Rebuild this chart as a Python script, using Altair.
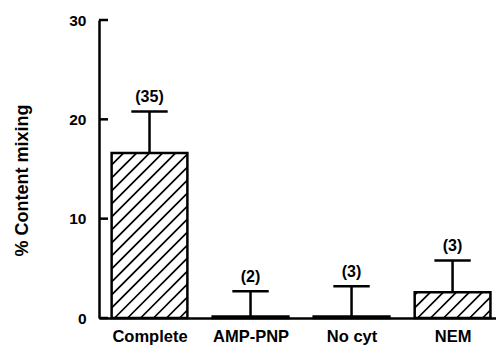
import altair as alt
import pandas as pd

# Content mixing under each condition: mean, SEM and number of experiments
categories = ["Complete", "AMP-PNP", "No cyt", "NEM"]
mean_mixing = [16.6, 0.15, 0.15, 2.6]
sem_mixing = [4.2, 2.55, 3.05, 3.2]
n_experiments = [35, 2, 3, 3]
y_ticks = [0, 10, 20, 30]

FONT = "Liberation Sans"
W, H = 397, 298
X_DOMAIN = [-0.5, 3.43]
Y_DOMAIN = [0, 30]
BAR_HALF = 0.375
CAP_HALF = 0.18
HATCH_STEP = 13.0  # px between hatch lines, measured horizontally

px_per_x = W / (X_DOMAIN[1] - X_DOMAIN[0])
px_per_y = H / (Y_DOMAIN[1] - Y_DOMAIN[0])

df = pd.DataFrame({
    "idx": list(range(len(categories))),
    "cat": categories,
    "mean": mean_mixing,
    "sem": sem_mixing,
    "n": n_experiments,
})
df["x0"] = df["idx"] - BAR_HALF
df["x1"] = df["idx"] + BAR_HALF
df["upper"] = df["mean"] + df["sem"]
df["c0"] = df["idx"] - CAP_HALF
df["c1"] = df["idx"] + CAP_HALF
df["label"] = ["(" + str(v) + ")" for v in df["n"]]

# 45-degree "/" hatch lines clipped to each bar's rectangle
hatch_rows = []
for _, r in df.iterrows():
    bw = 2 * BAR_HALF * px_per_x
    bh = r["mean"] * px_per_y
    if bh < 5:
        continue
    k = -bw + HATCH_STEP * 0.6
    while k < bh:
        sx, sy = (0.0, k) if k >= 0 else (-k, 0.0)
        ex, ey = (bw, bw + k) if bw + k <= bh else (bh - k, bh)
        hatch_rows.append({
            "hx0": r["x0"] + sx / px_per_x, "hy0": sy / px_per_y,
            "hx1": r["x0"] + ex / px_per_x, "hy1": ey / px_per_y,
        })
        k += HATCH_STEP
hatch = pd.DataFrame(hatch_rows)

label_expr = "[" + ",".join("'" + c + "'" for c in categories) + "][datum.value]"

x_scale = alt.Scale(domain=X_DOMAIN, nice=False, zero=False)
y_scale = alt.Scale(domain=Y_DOMAIN, nice=False)

x_axis = alt.Axis(
    values=list(range(len(categories))), labelExpr=label_expr, ticks=False,
    grid=False, title=None, domainColor="black", domainWidth=2.5,
    labelFont=FONT, labelFontSize=16.5, labelFontWeight="bold",
    labelColor="black", labelPadding=10, labelFlush=False,
)
y_axis = alt.Axis(
    values=y_ticks, ticks=False, grid=False, title="% Content mixing",
    domainColor="black", domainWidth=2.5,
    labelFont=FONT, labelFontSize=15.5, labelFontWeight="bold",
    labelColor="black", labelPadding=13,
    titleFont=FONT, titleFontSize=18, titleFontWeight="bold",
    titleColor="black", titleX=-77, titleY=160, titleAngle=-90,
    titleAlign="center", titleBaseline="middle",
)

base = alt.Chart(df)

bars_fill = base.mark_bar(fill="white", stroke=None).encode(
    x=alt.X("x0:Q", scale=x_scale, axis=x_axis), x2="x1",
    y=alt.Y("mean:Q", scale=y_scale, axis=y_axis), y2=alt.datum(0),
)

hatch_lines = alt.Chart(hatch).mark_rule(color="black", strokeWidth=1.7).encode(
    x=alt.X("hx0:Q", scale=x_scale), x2="hx1",
    y=alt.Y("hy0:Q", scale=y_scale), y2="hy1",
)

bars_outline = base.mark_bar(fill="white", fillOpacity=0, stroke="black",
                             strokeWidth=2.5).encode(
    x=alt.X("x0:Q", scale=x_scale), x2="x1",
    y=alt.Y("mean:Q", scale=y_scale), y2=alt.datum(0),
)

err_stem = base.mark_rule(color="black", strokeWidth=2.5).encode(
    x=alt.X("idx:Q", scale=x_scale),
    y=alt.Y("mean:Q", scale=y_scale), y2="upper",
)

err_cap = base.mark_rule(color="black", strokeWidth=2.5).encode(
    x=alt.X("c0:Q", scale=x_scale), x2="c1",
    y=alt.Y("upper:Q", scale=y_scale),
)

n_labels = base.mark_text(font=FONT, fontSize=16, fontWeight="bold",
                          color="black", baseline="alphabetic", dy=-9).encode(
    x=alt.X("idx:Q", scale=x_scale),
    y=alt.Y("upper:Q", scale=y_scale),
    text="label:N",
)

# inward-pointing tick marks on the y axis
y_tick_marks = alt.Chart(pd.DataFrame({"t": y_ticks})).mark_rule(
    color="black", strokeWidth=2.5).encode(
    y=alt.Y("t:Q", scale=y_scale), x=alt.value(0), x2=alt.value(9),
)

chart = alt.layer(
    bars_fill, hatch_lines, bars_outline, err_stem, err_cap, n_labels, y_tick_marks
).properties(
    width=W, height=H,
    autosize=alt.AutoSizeParams(type="none"),
    padding={"left": 99, "top": 20, "right": 0, "bottom": 27},
    background="white",
).configure_view(stroke=None)

chart.save("out.html", embed_options={"renderer": "svg", "actions": False})
